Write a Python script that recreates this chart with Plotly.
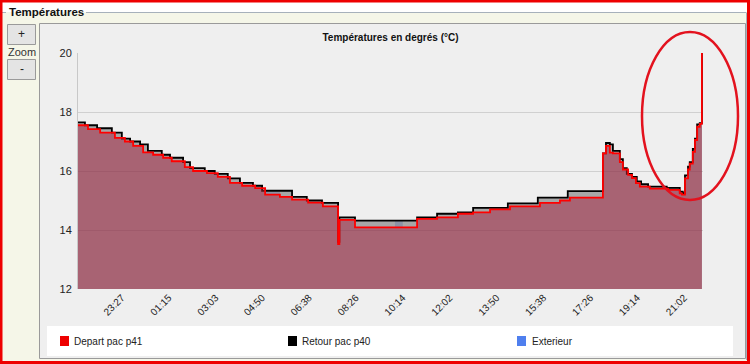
import plotly.graph_objects as go
from datetime import datetime, timedelta

# ---------------- data ----------------
series_names = ["Depart pac p41", "Retour pac p40", "Exterieur"]

depart_times = ["21:46", "22:09", "22:37", "23:11", "23:34", "23:53", "00:16", "00:39", "01:02",
                "01:22", "01:52", "02:11", "02:43", "03:08", "03:36", "04:04", "04:34", "04:57",
                "05:31", "05:59", "06:36", "07:10", "07:45", "07:48", "08:24", "10:47", "11:33",
                "12:21", "12:56", "13:35", "14:21", "15:30", "16:16", "16:39", "17:55", "18:02",
                "18:11", "18:18", "18:34", "18:41", "18:53", "19:02", "19:11", "19:20", "19:43",
                "20:25", "20:52", "20:57", "21:04", "21:11", "21:15", "21:22", "21:27", "21:32",
                "21:38", "21:43"]
depart_values = [17.55, 17.42, 17.3, 17.12, 17.0, 16.85, 16.63, 16.55, 16.45,
                 16.33, 16.13, 16.0, 15.93, 15.8, 15.6, 15.5, 15.42, 15.2,
                 15.12, 15.03, 14.93, 14.8, 13.52, 14.34, 14.09, 14.38, 14.43,
                 14.55, 14.6, 14.7, 14.8, 14.92, 15.0, 15.1, 16.6, 16.85,
                 16.62, 16.6, 16.3, 16.05, 15.87, 15.76, 15.59, 15.47, 15.4,
                 15.36, 15.24, 15.2, 15.75, 16.05, 16.25, 16.65, 17.05, 17.5,
                 17.6, 20.0]

retour_times = ["21:46", "22:02", "22:30", "23:04", "23:27", "23:46", "00:09", "00:27", "00:59",
                "01:18", "01:48", "02:04", "02:38", "03:01", "03:31", "03:59", "04:29", "04:50",
                "05:59", "06:33", "07:08", "07:45", "07:48", "08:24", "10:47", "11:33", "12:21",
                "12:56", "14:16", "15:25", "16:34", "17:55", "18:02", "18:11", "18:18", "18:34",
                "18:41", "18:50", "19:02", "19:13", "19:23", "19:39", "20:22", "20:52", "20:59",
                "21:04", "21:11", "21:15", "21:22", "21:27", "21:32", "21:38", "21:43"]
retour_values = [17.65, 17.55, 17.45, 17.3, 17.1, 17.0, 16.9, 16.68, 16.55,
                 16.45, 16.3, 16.1, 16.0, 15.9, 15.75, 15.6, 15.5, 15.33,
                 15.12, 15.0, 14.92, 13.6, 14.43, 14.32, 14.43, 14.55, 14.6,
                 14.75, 14.9, 15.1, 15.32, 16.6, 16.95, 16.9, 16.68, 16.4,
                 16.1, 15.9, 15.8, 15.65, 15.55, 15.47, 15.43, 15.3, 15.25,
                 15.85, 16.15, 16.3, 16.75, 17.1, 17.58, 17.62, 20.0]

exterieur_times = ["21:46", "22:09", "22:37", "23:11", "23:34", "23:53", "00:16", "00:39", "01:02",
                   "01:22", "01:52", "02:11", "02:43", "03:08", "03:36", "04:04", "04:34", "04:57",
                   "05:31", "05:59", "06:36", "07:10", "07:45", "07:48", "08:24", "09:56", "10:14",
                   "10:47", "11:33", "12:21", "12:56", "13:35", "14:21", "15:30", "16:16", "16:39",
                   "17:55", "18:02", "18:11", "18:18", "18:34", "18:41", "18:53", "19:02", "19:11",
                   "19:20", "19:43", "20:25", "20:52", "20:57", "21:04", "21:11", "21:15", "21:22",
                   "21:27", "21:32", "21:38", "21:43"]
exterieur_values = [17.55, 17.42, 17.3, 17.12, 17.0, 16.9, 16.63, 16.55, 16.45,
                    16.3, 16.13, 16.0, 15.93, 15.75, 15.6, 15.5, 15.42, 15.3,
                    15.12, 15.03, 14.93, 14.8, 13.52, 14.34, 14.09, 14.32, 14.09,
                    14.38, 14.43, 14.55, 14.6, 14.7, 14.8, 14.92, 15.0, 15.1,
                    16.6, 16.85, 16.62, 16.6, 16.3, 16.05, 15.87, 15.76, 15.59,
                    15.47, 15.4, 15.36, 15.24, 15.2, 15.75, 16.05, 16.25, 16.65,
                    17.05, 17.5, 17.6, 20.0]

tick_labels = ["23:27", "01:15", "03:03", "04:50", "06:38", "08:26", "10:14",
               "12:02", "13:50", "15:38", "17:26", "19:14", "21:02"]
y_ticks = [12, 14, 16, 18, 20]
y_range = [12, 20]
x_start = "21:46"
x_end = "21:45:30"

# ---------------- helpers ----------------
DAY1 = datetime(2013, 1, 14)


def to_dt(s, first=False):
    parts = [int(p) for p in s.split(":")]
    h, m = parts[0], parts[1]
    sec = parts[2] if len(parts) > 2 else 0
    d = DAY1 + timedelta(hours=h, minutes=m, seconds=sec)
    if (h, m) < (21, 46) and not first:
        d += timedelta(days=1)
    return d


def conv(lst):
    return [to_dt(s) for s in lst]


FONT = "Liberation Sans, Arial, sans-serif"

fig = go.Figure()

# Exterieur (blue), Retour (black), Depart (red) stacked translucently
fig.add_trace(go.Scatter(x=conv(exterieur_times), y=exterieur_values, name=series_names[2],
                         mode="lines", line=dict(color="rgba(80,120,230,0.0)", width=0, shape="hv"),
                         fill="tozeroy", fillcolor="rgba(80,120,230,0.25)", showlegend=False,
                         hoverinfo="skip"))
fig.add_trace(go.Scatter(x=conv(retour_times), y=retour_values, name=series_names[1],
                         mode="lines", line=dict(color="#000000", width=1.8, shape="hv"),
                         fill="tozeroy", fillcolor="rgba(0,0,0,0.30)", showlegend=False))
fig.add_trace(go.Scatter(x=conv(depart_times), y=depart_values, name=series_names[0],
                         mode="lines", line=dict(color="#ff0000", width=1.8, shape="hv"),
                         fill="tozeroy", fillcolor="rgba(203,43,55,0.45)", showlegend=False))

# ---------------- page decorations (pixel -> paper) ----------------
PL, PR, PT, PB = 78, 703, 53, 289
W, H = 750, 364


def fx(p):
    return (p - PL) / (PR - PL)


def fy(p):
    return (PB - p) / (PB - PT)


def rect(x0, y0, x1, y1, fill=None, line=None, lw=1, layer="below"):
    return dict(type="rect", xref="paper", yref="paper", x0=fx(x0), x1=fx(x1), y0=fy(y1), y1=fy(y0),
                fillcolor=fill if fill else "rgba(0,0,0,0)",
                line=dict(color=line if line else "rgba(0,0,0,0)", width=lw if line else 0),
                layer=layer)


def hline(x0, x1, y, color, lw=1):
    return dict(type="line", xref="paper", yref="paper", x0=fx(x0), x1=fx(x1), y0=fy(y), y1=fy(y),
                line=dict(color=color, width=lw), layer="below")


def vline(x, y0, y1, color, lw=1):
    return dict(type="line", xref="paper", yref="paper", x0=fx(x), x1=fx(x), y0=fy(y0), y1=fy(y1),
                line=dict(color=color, width=lw), layer="below")


shapes = [
    rect(0, 0, 750, 12, fill="#ffffff"),
    hline(2, 6, 12.5, "#a7b1bb"),
    hline(86, 746, 12.5, "#a7b1bb"),
    vline(746.5, 12.5, 360, "#a7b1bb"),
    rect(39.5, 23.5, 745.5, 358.5, fill="#efefef", line="#9a9a9a"),
    rect(47, 326, 733, 356, fill="#ffffff"),
    rect(7.5, 24.5, 35.5, 44.5, fill="#e4e4e4", line="#9a9a9a"),
    rect(7.5, 59.5, 35.5, 79.5, fill="#e4e4e4", line="#9a9a9a"),
    rect(60, 336, 69, 346, fill="#ee0000", layer="above"),
    rect(288, 336, 297, 346, fill="#000000", layer="above"),
    rect(517, 336, 526, 346, fill="#4f7fee", layer="above"),
    dict(type="circle", xref="paper", yref="paper", x0=fx(642), x1=fx(738), y0=fy(200), y1=fy(32),
         line=dict(color="#e3121e", width=2.5), layer="above"),
    rect(1, 1, 748.5, 362.5, line="#ee0000", lw=3, layer="above"),
]

annotations = [
    dict(text="Températures", x=fx(7), y=fy(12), xanchor="left", yanchor="middle",
         font=dict(family=FONT, size=11.5, color="#111111", weight="bold")),
    dict(text="+", x=fx(21.5), y=fy(34), xanchor="center", yanchor="middle",
         font=dict(family=FONT, size=12, color="#222222")),
    dict(text="Zoom", x=fx(21.5), y=fy(52), xanchor="center", yanchor="middle",
         font=dict(family=FONT, size=11, color="#333333")),
    dict(text="-", x=fx(21.5), y=fy(69), xanchor="center", yanchor="middle",
         font=dict(family=FONT, size=12, color="#222222")),
    dict(text=series_names[0], x=fx(72), y=fy(341), xanchor="left", yanchor="middle",
         font=dict(family=FONT, size=10, color="#222222")),
    dict(text=series_names[1], x=fx(300), y=fy(341), xanchor="left", yanchor="middle",
         font=dict(family=FONT, size=10, color="#222222")),
    dict(text=series_names[2], x=fx(530), y=fy(341), xanchor="left", yanchor="middle",
         font=dict(family=FONT, size=10, color="#222222")),
]
for a in annotations:
    a.update(xref="paper", yref="paper", showarrow=False)

fig.update_layout(
    width=W, height=H,
    margin=dict(l=PL, r=W - PR, t=PT, b=H - PB),
    paper_bgcolor="#f5f6e8",
    plot_bgcolor="#efefef",
    showlegend=False,
    title=dict(text="Températures en degrés (°C)", x=fx(390.5), xref="paper", xanchor="center",
               y=1 - 37 / H, yref="container", yanchor="middle",
               font=dict(family=FONT, size=10, color="#111111", weight="bold")),
    shapes=shapes,
    annotations=annotations,
    font=dict(family=FONT, color="#222222"),
)

fig.update_xaxes(
    type="date",
    range=[to_dt(x_start, first=True), to_dt(x_end)],
    tickvals=conv(tick_labels), ticktext=tick_labels,
    tickangle=-45, tickfont=dict(family=FONT, size=10, color="#222222"),
    showgrid=False, zeroline=False, showline=False, ticks="",
)
fig.update_yaxes(
    range=y_range, tickvals=y_ticks,
    tickfont=dict(family=FONT, size=11, color="#222222"),
    showgrid=True, gridcolor="#d0d0d0", gridwidth=1, zeroline=False,
    showline=True, linecolor="#c8c8c8", linewidth=1, ticks="", ticklabelstandoff=3,
)

fig.write_html("out.html",
               config={"displayModeBar": False},
               post_script="document.body.style.margin='0';document.body.style.overflow='hidden';")
